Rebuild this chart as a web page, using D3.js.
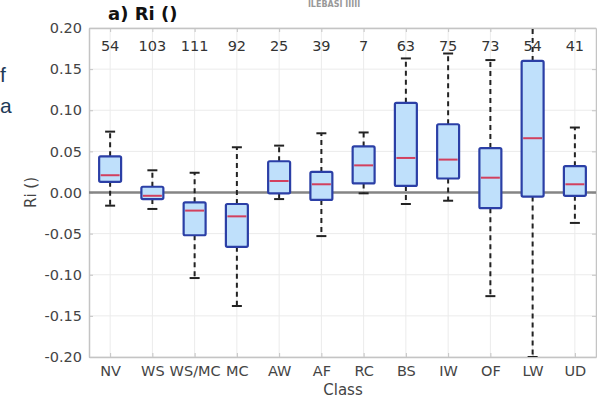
<!DOCTYPE html>
<html><head><meta charset="utf-8">
<script src="https://cdn.jsdelivr.net/npm/d3@7"></script>
<style>body{margin:0;background:#fff;}svg{display:block;}</style>
</head><body>
<svg id="c" width="597" height="400"></svg>
<script>
const categories = ["NV","WS","WS/MC","MC","AW","AF","RC","BS","IW","OF","LW","UD"];
const counts = [54,103,111,92,25,39,7,63,75,73,54,41];
const whiskerLow = [-0.016,-0.020,-0.104,-0.138,-0.008,-0.053,-0.001,-0.014,-0.010,-0.126,-0.200,-0.037];
const q1 = [0.013,-0.008,-0.052,-0.066,-0.001,-0.009,0.011,0.008,0.017,-0.019,-0.005,-0.004];
const medians = [0.021,-0.004,-0.022,-0.029,0.014,0.010,0.033,0.042,0.040,0.018,0.066,0.010];
const q3 = [0.044,0.007,-0.012,-0.014,0.038,0.025,0.056,0.109,0.083,0.054,0.160,0.032];
const whiskerHigh = [0.074,0.027,0.024,0.055,0.057,0.072,0.073,0.163,0.169,0.161,0.205,0.079];
const yTicks = [-0.20,-0.15,-0.10,-0.05,0.00,0.05,0.10,0.15,0.20];

const svg = d3.select("#c");
const L=89, R=596, T=28, B=357;
const x = d3.scalePoint().domain(categories).range([L,R]).padding(0.5);
const y = d3.scaleLinear().domain([-0.2,0.2]).range([B,T]);
const font = "DejaVu Sans, sans-serif";
const step = x.step();
const bw = step*0.52, cw = 10;

// left fragment text
svg.append("text").attr("x",0).attr("y",82)
  .attr("font-family","Liberation Sans, Arial, sans-serif").attr("font-size",21).attr("fill","#1d3a57").text("f");
svg.append("text").attr("x",0).attr("y",113)
  .attr("font-family","Liberation Sans, Arial, sans-serif").attr("font-size",21).attr("fill","#1d3a57").text("a");
// top fragment text
svg.append("text").attr("x",334).attr("y",7).attr("text-anchor","middle")
  .attr("font-family",font).attr("font-size",8).attr("font-weight","bold").attr("fill","#999").text("ILEBASI IIIII");

// grid
const g = svg.append("g");
g.selectAll("line.gy").data(yTicks).join("line").attr("x1",L).attr("x2",R)
  .attr("y1",d=>y(d)).attr("y2",d=>y(d)).attr("stroke","#ebebeb").attr("stroke-width",1);
g.selectAll("line.gx").data(categories).join("line").attr("y1",T).attr("y2",B)
  .attr("x1",d=>x(d)).attr("x2",d=>x(d)).attr("stroke","#ebebeb").attr("stroke-width",1);

// axes
const axL = d3.axisLeft(y).tickValues(yTicks).tickFormat(d3.format(".2f")).tickSizeInner(-4).tickSizeOuter(0).tickPadding(7);
const gl = svg.append("g").attr("transform",`translate(${L},0)`).call(axL);
const axR = d3.axisRight(y).tickValues(yTicks).tickFormat("").tickSizeInner(-4).tickSizeOuter(0);
const gr = svg.append("g").attr("transform",`translate(${R},0)`).call(axR);
const axB = d3.axisBottom(x).tickSizeInner(-4).tickSizeOuter(0).tickPadding(9);
const gb = svg.append("g").attr("transform",`translate(0,${B})`).call(axB);
const axT = d3.axisTop(x).tickFormat("").tickSizeInner(-4).tickSizeOuter(0);
const gt = svg.append("g").attr("transform",`translate(0,${T})`).call(axT);
[gl,gr,gb,gt].forEach(a=>{
  a.select(".domain").attr("stroke","#c4c4c4").attr("stroke-width",1.5);
  a.selectAll(".tick line").attr("stroke","#c4c4c4");
  a.selectAll("text").attr("font-family",font).attr("font-size",14.5).attr("fill","#444");
});
gl.selectAll("text").text(d=> d3.format(".2f")(d).replace("−","-"));

// zero line
svg.append("line").attr("x1",L).attr("x2",R).attr("y1",y(0)).attr("y2",y(0))
  .attr("stroke","#858585").attr("stroke-width",2.6);

// boxes
svg.append("clipPath").attr("id","pc").append("rect").attr("x",L).attr("y",T-1).attr("width",R-L).attr("height",B-T+1);
const bx = svg.append("g").attr("clip-path","url(#pc)");
categories.forEach((c,i)=>{
  const cx = x(c);
  bx.append("line").attr("x1",cx).attr("x2",cx).attr("y1",y(q3[i])).attr("y2",y(whiskerHigh[i]))
    .attr("stroke","#222").attr("stroke-width",2).attr("stroke-dasharray","5,4");
  bx.append("line").attr("x1",cx).attr("x2",cx).attr("y1",y(q1[i])).attr("y2",y(whiskerLow[i]))
    .attr("stroke","#222").attr("stroke-width",2).attr("stroke-dasharray","5,4");
  [whiskerHigh[i],whiskerLow[i]].forEach(v=>{
    bx.append("line").attr("x1",cx-cw/2).attr("x2",cx+cw/2).attr("y1",y(v)).attr("y2",y(v))
      .attr("stroke","#222").attr("stroke-width",2);
  });
  bx.append("rect").attr("x",cx-bw/2).attr("width",bw).attr("y",y(q3[i])).attr("height",y(q1[i])-y(q3[i]))
    .attr("fill","#bfe0fb").attr("stroke","#2b3fa6").attr("stroke-width",2.2).attr("rx",1.5);
  bx.append("line").attr("x1",cx-bw/2+1.5).attr("x2",cx+bw/2-1.5).attr("y1",y(medians[i])).attr("y2",y(medians[i]))
    .attr("stroke","#d2405e").attr("stroke-width",2);
});

// counts
svg.selectAll("text.cnt").data(categories).join("text").attr("class","cnt")
  .attr("x",d=>x(d)).attr("y",51).attr("text-anchor","middle")
  .attr("font-family",font).attr("font-size",14.5).attr("fill","#333")
  .text((d,i)=>counts[i]);

// title & labels
svg.append("text").attr("x",108).attr("y",20).attr("font-family",font).attr("font-weight","bold")
  .attr("font-size",18).attr("fill","#111").text("a) Ri ()");
svg.append("text").attr("x",343).attr("y",395).attr("text-anchor","middle")
  .attr("font-family",font).attr("font-size",15).attr("fill","#444").text("Class");
svg.append("text").attr("transform",`translate(36,${y(0)}) rotate(-90)`).attr("text-anchor","middle")
  .attr("font-family",font).attr("font-size",15).attr("fill","#444").text("Ri ()");
</script>
</body></html>
